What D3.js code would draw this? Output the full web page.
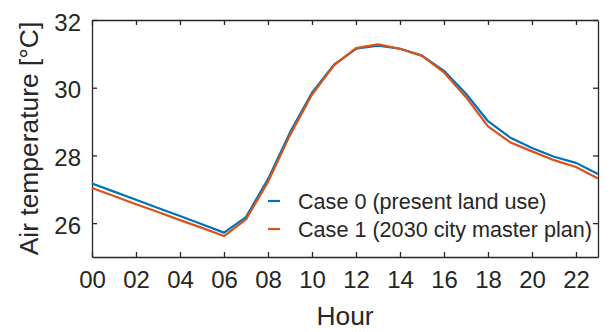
<!DOCTYPE html>
<html>
<head>
<meta charset="utf-8">
<script src="https://cdn.jsdelivr.net/npm/d3@7"></script>
<style>
  body { margin: 0; background: #fff; }
  text { font-family: "Liberation Sans", Arial, Helvetica, sans-serif; fill: #262626; }
</style>
</head>
<body>
<div id="chart"></div>
<script>
var hours = d3.range(0, 24);
var case0 = [27.17, 26.93, 26.69, 26.45, 26.21, 25.97, 25.72, 26.18, 27.30, 28.68, 29.85, 30.68,
             31.15, 31.24, 31.15, 30.95, 30.50, 29.82, 29.01, 28.53, 28.22, 27.96, 27.78, 27.45];
var case1 = [27.04, 26.80, 26.56, 26.33, 26.09, 25.86, 25.62, 26.11, 27.22, 28.60, 29.80, 30.66,
             31.17, 31.28, 31.15, 30.94, 30.45, 29.72, 28.86, 28.39, 28.12, 27.86, 27.66, 27.32];
var xTicks = [0, 2, 4, 6, 8, 10, 12, 14, 16, 18, 20, 22];
var yTicks = [26, 28, 30, 32];
var seriesNames = ["Case 0 (present land use)", "Case 1 (2030 city master plan)"];
var seriesColors = ["#0072BD", "#D95319"];

var svgWidth = 610;
var svgHeight = 332;

var chartMargin = {
  top: 20,
  right: 12,
  bottom: 75,
  left: 92
};

var chartWidth = svgWidth - chartMargin.left - chartMargin.right;
var chartHeight = svgHeight - chartMargin.top - chartMargin.bottom;

var svg = d3.select("#chart").append("svg")
    .attr("width", svgWidth)
    .attr("height", svgHeight);

var chartGroup = svg.append("g")
  .attr("transform", `translate(${chartMargin.left}, ${chartMargin.top})`);

var xScale = d3.scaleLinear()
  .domain([0, 23])
  .range([0, chartWidth]);

var yScale = d3.scaleLinear()
  .domain([25, 32])
  .range([chartHeight, 0]);

// MATLAB-style box with inward ticks on every side
var tickLen = 5;
var fmtHour = d3.format("02d");

var xAxis = d3.axisBottom(xScale).tickValues(xTicks).tickSizeInner(-tickLen).tickSizeOuter(0)
  .tickFormat(fmtHour).tickPadding(14);
var xAxisTop = d3.axisTop(xScale).tickValues(xTicks).tickSizeInner(-tickLen).tickSizeOuter(0)
  .tickFormat("");
var yAxis = d3.axisLeft(yScale).tickValues(yTicks).tickSizeInner(-tickLen).tickSizeOuter(0)
  .tickFormat(d3.format("d")).tickPadding(11);
var yAxisRight = d3.axisRight(yScale).tickValues(yTicks).tickSizeInner(-tickLen).tickSizeOuter(0)
  .tickFormat("");

var gx = chartGroup.append("g")
  .attr("transform", `translate(0, ${chartHeight})`)
  .call(xAxis);
chartGroup.append("g").call(xAxisTop);
var gy = chartGroup.append("g").call(yAxis);
chartGroup.append("g")
  .attr("transform", `translate(${chartWidth}, 0)`)
  .call(yAxisRight);

chartGroup.selectAll(".domain")
  .attr("stroke", "#262626")
  .attr("stroke-width", 1.3);
chartGroup.selectAll(".tick line")
  .attr("stroke", "#262626")
  .attr("stroke-width", 1.3);

gx.selectAll("text")
  .style("font-size", "24px")
  .attr("fill", "#262626");
gy.selectAll("text")
  .style("font-size", "24px")
  .attr("fill", "#262626")
  .attr("dy", "0.42em");

// lines
var line = d3.line()
  .x(function(d, i) { return xScale(hours[i]); })
  .y(function(d) { return yScale(d); });

[case0, case1].forEach(function(series, k) {
  chartGroup.append("path")
    .datum(series)
    .attr("fill", "none")
    .attr("stroke", seriesColors[k])
    .attr("stroke-width", 2.2)
    .attr("stroke-linejoin", "round")
    .attr("d", line);
});

// legend
var legend = chartGroup.append("g")
  .attr("transform", "translate(176, 181)");

seriesNames.forEach(function(name, k) {
  var row = legend.append("g")
    .attr("transform", `translate(0, ${k * 28})`);
  row.append("line")
    .attr("x1", 0)
    .attr("x2", 12)
    .attr("stroke", seriesColors[k])
    .attr("stroke-width", 2.2);
  row.append("text")
    .attr("x", 30)
    .attr("dy", "0.36em")
    .style("font-size", "21.6px")
    .text(name);
});

// axis titles
svg.append("text")
  .attr("x", chartMargin.left + chartWidth / 2)
  .attr("y", 325)
  .attr("text-anchor", "middle")
  .style("font-size", "26.4px")
  .text("Hour");

svg.append("text")
  .attr("transform", `translate(38, ${chartMargin.top + chartHeight / 2}) rotate(-90)`)
  .attr("text-anchor", "middle")
  .style("font-size", "26.4px")
  .text("Air temperature [°C]");
</script>
</body>
</html>
